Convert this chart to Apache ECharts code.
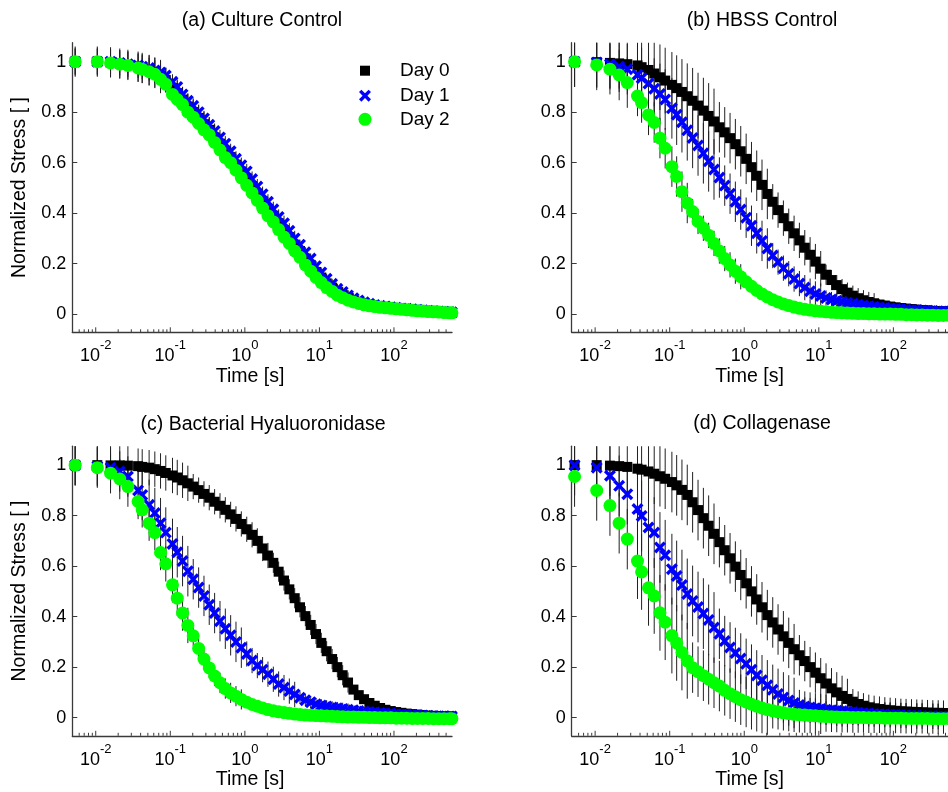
<!DOCTYPE html>
<html><head><meta charset="utf-8">
<script src="https://cdn.jsdelivr.net/npm/echarts@6/dist/echarts.min.js"></script>
<style>html,body{margin:0;padding:0;background:#fff}#c{width:948px;height:792px}</style>
</head><body><div id="c"></div>
<script>
// ---------- data ----------
const T = [0.0053,0.0105,0.0158,0.021,0.027,0.037,0.042,0.052,0.062,0.074,0.087,0.107,0.124,0.146,0.172,0.203,0.24,0.283,0.333,0.393,0.464,0.547,0.645,0.76,0.897,1.06,1.25,1.47,1.73,2.04,2.41,2.84,3.35,3.95,4.66,5.49,6.48,7.64,9.0,10.6,12.5,14.8,17.4,20.5,24.2,28.6,33.7,39.7,46.8,55.2,65.1,76.8,90.5,107,126,148,175,206,243,287,338,399,470,554,598];

const A0 = [1.00,1.00,0.997,0.992,0.987,0.98,0.975,0.967,0.957,0.943,0.927,0.895,0.875,0.85,0.822,0.80,0.777,0.752,0.73,0.70,0.675,0.647,0.622,0.592,0.565,0.537,0.507,0.477,0.447,0.417,0.39,0.36,0.332,0.305,0.275,0.25,0.22,0.195,0.167,0.145,0.122,0.105,0.087,0.076,0.064,0.055,0.048,0.042,0.037,0.033,0.03,0.027,0.025,0.023,0.02,0.019,0.017,0.015,0.013,0.012,0.01,0.009,0.008,0.006,0.006];
const A1 = [1.00,1.00,1.00,0.995,0.99,0.985,0.98,0.975,0.965,0.957,0.945,0.92,0.90,0.87,0.845,0.825,0.80,0.775,0.75,0.725,0.70,0.675,0.645,0.615,0.59,0.565,0.535,0.505,0.475,0.445,0.415,0.385,0.36,0.33,0.30,0.275,0.245,0.22,0.19,0.165,0.14,0.12,0.10,0.088,0.074,0.063,0.054,0.047,0.041,0.036,0.033,0.03,0.027,0.025,0.022,0.021,0.019,0.017,0.015,0.013,0.012,0.01,0.009,0.008,0.007];
const A2 = [1.00,1.00,0.995,0.99,0.985,0.975,0.97,0.96,0.95,0.93,0.91,0.87,0.85,0.83,0.80,0.78,0.755,0.73,0.71,0.68,0.65,0.62,0.60,0.57,0.54,0.51,0.48,0.45,0.42,0.39,0.365,0.335,0.305,0.28,0.25,0.225,0.195,0.17,0.145,0.125,0.105,0.09,0.075,0.065,0.055,0.048,0.042,0.037,0.033,0.03,0.027,0.025,0.023,0.021,0.019,0.017,0.015,0.013,0.012,0.01,0.009,0.008,0.006,0.005,0.005];

const B0 = [1.0,0.998,0.995,0.993,0.99,0.985,0.978,0.967,0.953,0.938,0.925,0.908,0.895,0.88,0.863,0.845,0.826,0.806,0.785,0.763,0.74,0.72,0.697,0.673,0.645,0.615,0.582,0.548,0.512,0.476,0.445,0.412,0.38,0.348,0.32,0.292,0.263,0.235,0.208,0.18,0.156,0.135,0.115,0.099,0.085,0.073,0.063,0.055,0.048,0.043,0.038,0.034,0.03,0.027,0.024,0.022,0.02,0.018,0.016,0.015,0.013,0.012,0.011,0.01,0.01];
const B1 = [1.0,0.997,0.99,0.98,0.97,0.948,0.935,0.913,0.893,0.872,0.85,0.815,0.79,0.76,0.728,0.698,0.668,0.637,0.605,0.573,0.541,0.509,0.477,0.445,0.414,0.382,0.35,0.32,0.29,0.26,0.232,0.206,0.182,0.16,0.139,0.121,0.105,0.091,0.08,0.072,0.064,0.058,0.053,0.049,0.045,0.041,0.037,0.034,0.031,0.028,0.026,0.024,0.022,0.02,0.018,0.017,0.016,0.015,0.014,0.013,0.012,0.011,0.01,0.01,0.01];
const B2 = [1.0,0.987,0.97,0.947,0.917,0.864,0.838,0.789,0.759,0.697,0.657,0.584,0.545,0.485,0.44,0.406,0.367,0.34,0.312,0.28,0.25,0.22,0.195,0.17,0.148,0.128,0.11,0.094,0.08,0.068,0.057,0.048,0.04,0.034,0.028,0.023,0.019,0.016,0.013,0.011,0.009,0.007,0.006,0.005,0.004,0.003,0.002,0.002,0.001,0.001,0.0,0.0,0.0,-0.001,-0.001,-0.002,-0.002,-0.003,-0.003,-0.004,-0.004,-0.005,-0.005,-0.005,-0.005];

const C0 = [1.0,1.0,0.999,0.999,0.998,0.996,0.993,0.99,0.984,0.977,0.969,0.959,0.951,0.94,0.928,0.915,0.901,0.886,0.871,0.855,0.839,0.823,0.805,0.787,0.767,0.746,0.724,0.70,0.67,0.642,0.613,0.578,0.543,0.508,0.473,0.437,0.402,0.367,0.331,0.296,0.263,0.232,0.20,0.168,0.139,0.111,0.089,0.073,0.058,0.047,0.038,0.031,0.026,0.022,0.019,0.016,0.014,0.012,0.01,0.008,0.007,0.006,0.005,0.005,0.004];
const C1 = [1.0,0.995,0.99,0.975,0.955,0.90,0.882,0.843,0.81,0.77,0.733,0.688,0.655,0.62,0.58,0.548,0.515,0.482,0.447,0.414,0.382,0.352,0.326,0.30,0.277,0.252,0.226,0.206,0.19,0.172,0.152,0.133,0.119,0.105,0.092,0.079,0.069,0.061,0.053,0.048,0.044,0.04,0.037,0.034,0.031,0.029,0.026,0.024,0.022,0.02,0.018,0.016,0.015,0.013,0.012,0.011,0.01,0.009,0.008,0.007,0.006,0.005,0.005,0.004,0.004];
const C2 = [1.0,0.99,0.968,0.945,0.915,0.856,0.823,0.77,0.733,0.654,0.609,0.526,0.473,0.414,0.365,0.324,0.274,0.232,0.197,0.165,0.138,0.115,0.098,0.085,0.072,0.061,0.052,0.045,0.038,0.032,0.027,0.023,0.02,0.017,0.014,0.012,0.01,0.009,0.008,0.007,0.006,0.005,0.004,0.003,0.002,0.002,0.001,0.001,0.0,0.0,-0.001,-0.001,-0.001,-0.002,-0.002,-0.002,-0.003,-0.003,-0.003,-0.003,-0.004,-0.004,-0.004,-0.004,-0.004];

const D0 = [1.0,1.0,0.998,0.996,0.993,0.986,0.982,0.975,0.966,0.956,0.946,0.933,0.92,0.902,0.882,0.853,0.822,0.79,0.76,0.728,0.695,0.663,0.631,0.598,0.565,0.532,0.50,0.468,0.437,0.406,0.377,0.349,0.322,0.296,0.271,0.247,0.224,0.20,0.178,0.156,0.135,0.116,0.10,0.086,0.074,0.063,0.054,0.047,0.041,0.037,0.034,0.031,0.029,0.027,0.025,0.024,0.023,0.022,0.021,0.02,0.019,0.019,0.018,0.018,0.017];
const D1 = [1.0,0.99,0.958,0.918,0.885,0.826,0.799,0.753,0.733,0.674,0.643,0.588,0.561,0.525,0.49,0.462,0.438,0.412,0.387,0.357,0.332,0.303,0.278,0.256,0.234,0.213,0.19,0.167,0.148,0.128,0.11,0.094,0.08,0.068,0.058,0.05,0.044,0.04,0.037,0.034,0.031,0.029,0.027,0.025,0.023,0.021,0.019,0.017,0.015,0.014,0.013,0.012,0.011,0.01,0.009,0.008,0.007,0.006,0.006,0.005,0.005,0.004,0.004,0.004,0.003];
const D2 = [0.955,0.90,0.84,0.77,0.707,0.62,0.577,0.514,0.482,0.415,0.378,0.325,0.296,0.258,0.225,0.198,0.182,0.166,0.152,0.138,0.125,0.108,0.095,0.083,0.071,0.062,0.053,0.045,0.038,0.032,0.027,0.023,0.019,0.016,0.013,0.011,0.01,0.008,0.007,0.005,0.004,0.003,0.002,0.001,0.001,0.0,0.0,0.0,-0.001,-0.001,-0.001,-0.002,-0.002,-0.002,-0.002,-0.003,-0.003,-0.003,-0.003,-0.003,-0.004,-0.004,-0.004,-0.004,-0.004];

// standard deviations (error bar half-lengths)
const EA0 = [0.06,0.06,0.06,0.06,0.06,0.06,0.06,0.06,0.06,0.06,0.05,0.05,0.05,0.05,0.05,0.05,0.05,0.05,0.05,0.05,0.04,0.04,0.04,0.04,0.04,0.04,0.04,0.04,0.04,0.04,0.04,0.04,0.04,0.04,0.04,0.03,0.03,0.03,0.03,0.03,0.03,0.03,0.03,0.03,0.03,0.02,0.02,0.02,0.02,0.02,0.02,0.02,0.02,0.02,0.02,0.012,0.012,0.012,0.012,0.012,0.012,0.012,0.012,0.012,0.012];
const EA1 = [0.05,0.05,0.05,0.05,0.05,0.05,0.05,0.05,0.05,0.05,0.03,0.03,0.03,0.03,0.03,0.03,0.03,0.03,0.03,0.03,0.03,0.03,0.03,0.03,0.03,0.03,0.03,0.03,0.03,0.03,0.03,0.03,0.03,0.03,0.03,0.02,0.02,0.02,0.02,0.02,0.02,0.02,0.02,0.02,0.02,0.02,0.02,0.02,0.02,0.02,0.01,0.01,0.01,0.01,0.01,0.01,0.01,0.01,0.01,0.01,0.01,0.01,0.01,0.01,0.01];
const EA2 = [0.055,0.055,0.055,0.055,0.055,0.055,0.055,0.055,0.055,0.055,0.03,0.03,0.03,0.03,0.03,0.03,0.03,0.03,0.03,0.03,0.03,0.03,0.03,0.03,0.03,0.03,0.03,0.03,0.03,0.03,0.03,0.03,0.03,0.03,0.03,0.015,0.015,0.015,0.015,0.015,0.015,0.015,0.015,0.015,0.015,0.015,0.015,0.015,0.015,0.015,0.01,0.01,0.01,0.01,0.01,0.01,0.01,0.01,0.01,0.01,0.01,0.01,0.01,0.01,0.01];

const EB0 = [0.1,0.1,0.1,0.1,0.1,0.13,0.13,0.13,0.13,0.13,0.13,0.13,0.13,0.13,0.13,0.13,0.13,0.13,0.13,0.13,0.1,0.1,0.1,0.1,0.1,0.1,0.1,0.1,0.1,0.1,0.07,0.07,0.07,0.07,0.07,0.07,0.07,0.07,0.07,0.07,0.04,0.04,0.04,0.04,0.04,0.04,0.04,0.04,0.04,0.04,0.02,0.02,0.02,0.02,0.02,0.02,0.02,0.02,0.02,0.02,0.02,0.02,0.02,0.02,0.02];
const EB1 = [0.1,0.1,0.1,0.1,0.1,0.12,0.12,0.12,0.12,0.12,0.12,0.12,0.12,0.12,0.12,0.12,0.12,0.12,0.12,0.12,0.08,0.08,0.08,0.08,0.08,0.08,0.08,0.08,0.08,0.08,0.05,0.05,0.05,0.05,0.05,0.05,0.05,0.05,0.05,0.05,0.03,0.03,0.03,0.03,0.03,0.03,0.03,0.03,0.03,0.03,0.015,0.015,0.015,0.015,0.015,0.015,0.015,0.015,0.015,0.015,0.015,0.015,0.015,0.015,0.015];
const EB2 = [0.1,0.1,0.1,0.1,0.1,0.08,0.08,0.08,0.08,0.08,0.08,0.08,0.08,0.08,0.08,0.05,0.05,0.05,0.05,0.05,0.05,0.05,0.05,0.05,0.05,0.02,0.02,0.02,0.02,0.02,0.02,0.02,0.02,0.02,0.02,0.02,0.02,0.02,0.02,0.02,0.01,0.01,0.01,0.01,0.01,0.01,0.01,0.01,0.01,0.01,0.01,0.01,0.01,0.01,0.01,0.01,0.01,0.01,0.01,0.01,0.01,0.01,0.01,0.01,0.01];

const EC0 = [0.08,0.08,0.08,0.08,0.08,0.07,0.07,0.07,0.07,0.07,0.07,0.07,0.07,0.07,0.07,0.05,0.05,0.05,0.05,0.05,0.05,0.05,0.05,0.05,0.05,0.05,0.05,0.05,0.05,0.05,0.04,0.04,0.04,0.04,0.04,0.04,0.04,0.04,0.04,0.04,0.04,0.04,0.04,0.04,0.04,0.015,0.015,0.015,0.015,0.015,0.015,0.015,0.015,0.015,0.015,0.015,0.015,0.015,0.015,0.015,0.015,0.015,0.015,0.015,0.015];
const EC1 = [0.08,0.08,0.08,0.08,0.08,0.1,0.1,0.1,0.1,0.1,0.1,0.1,0.1,0.1,0.1,0.08,0.08,0.08,0.08,0.08,0.08,0.08,0.08,0.08,0.08,0.05,0.05,0.05,0.05,0.05,0.05,0.05,0.05,0.05,0.05,0.025,0.025,0.025,0.025,0.025,0.025,0.025,0.025,0.025,0.025,0.01,0.01,0.01,0.01,0.01,0.01,0.01,0.01,0.01,0.01,0.01,0.01,0.01,0.01,0.01,0.01,0.01,0.01,0.01,0.01];
const EC2 = [0.08,0.08,0.08,0.08,0.08,0.07,0.07,0.07,0.07,0.07,0.07,0.07,0.07,0.07,0.07,0.04,0.04,0.04,0.04,0.04,0.04,0.04,0.04,0.04,0.04,0.01,0.01,0.01,0.01,0.01,0.01,0.01,0.01,0.01,0.01,0.01,0.01,0.01,0.01,0.01,0.01,0.01,0.01,0.01,0.01,0.01,0.01,0.01,0.01,0.01,0.01,0.01,0.01,0.01,0.01,0.01,0.01,0.01,0.01,0.01,0.01,0.01,0.01,0.01,0.01];

const ED0 = [0.12,0.12,0.12,0.12,0.12,0.12,0.12,0.12,0.12,0.12,0.12,0.12,0.12,0.12,0.12,0.12,0.12,0.12,0.12,0.12,0.1,0.1,0.1,0.1,0.1,0.1,0.1,0.1,0.1,0.1,0.1,0.1,0.1,0.1,0.1,0.08,0.08,0.08,0.08,0.08,0.08,0.08,0.08,0.08,0.08,0.05,0.05,0.05,0.05,0.05,0.05,0.05,0.05,0.05,0.05,0.05,0.05,0.05,0.05,0.05,0.05,0.05,0.05,0.05,0.05];
const ED1 = [0.12,0.12,0.12,0.12,0.12,0.14,0.14,0.14,0.14,0.14,0.14,0.14,0.14,0.14,0.14,0.14,0.14,0.14,0.14,0.14,0.1,0.1,0.1,0.1,0.1,0.1,0.1,0.1,0.1,0.1,0.1,0.1,0.1,0.1,0.1,0.06,0.06,0.06,0.06,0.06,0.06,0.06,0.06,0.06,0.06,0.05,0.05,0.05,0.05,0.05,0.05,0.05,0.05,0.05,0.05,0.05,0.05,0.05,0.05,0.05,0.05,0.05,0.05,0.05,0.05];
const ED2 = [0.12,0.12,0.12,0.12,0.12,0.15,0.15,0.15,0.15,0.15,0.15,0.15,0.15,0.15,0.15,0.1,0.1,0.1,0.1,0.1,0.1,0.1,0.1,0.1,0.1,0.1,0.1,0.1,0.1,0.1,0.07,0.07,0.07,0.07,0.07,0.07,0.07,0.07,0.07,0.07,0.06,0.06,0.06,0.06,0.06,0.06,0.06,0.06,0.06,0.06,0.06,0.06,0.06,0.06,0.06,0.06,0.06,0.06,0.06,0.06,0.06,0.06,0.06,0.06,0.06];

const DAYS = ['Day 0', 'Day 1', 'Day 2'];
const TITLES = ['(a) Culture Control', '(b) HBSS Control', '(c) Bacterial Hyaluoronidase', '(d) Collagenase'];
const Y_TICKS = [0, 0.2, 0.4, 0.6, 0.8, 1];
const X_TICKS = [0.006,0.007,0.008,0.009,0.01,0.02,0.03,0.04,0.05,0.06,0.07,0.08,0.09,0.1,0.2,0.3,0.4,0.5,0.6,0.7,0.8,0.9,1,2,3,4,5,6,7,8,9,10,20,30,40,50,60,70,80,90,100,200,300,400,500];
const X_MAJOR = [0.01, 0.1, 1, 10, 100];

const VALUES = [[A0, A1, A2], [B0, B1, B2], [C0, C1, C2], [D0, D1, D2]];
const ERRORS = [[EA0, EA1, EA2], [EB0, EB1, EB2], [EC0, EC1, EC2], [ED0, ED1, ED2]];

// ---------- layout / style ----------
const X_MIN = 0.00485, X_MAX = 600, Y_MIN = -0.072, Y_MAX = 1.075;
const FONT = '"Liberation Sans", Arial, Helvetica, sans-serif';
const LAYOUT = [
  {left: 72.3, top: 42.7, tx: 262, ty: 20.7, yName: true},
  {left: 571.7, top: 42.7, tx: 762, ty: 20.5, yName: false},
  {left: 72.3, top: 446.2, tx: 263, ty: 424.3, yName: true},
  {left: 571.7, top: 446.2, tx: 762, ty: 423.5, yName: false}
];
const GW = 379.7, GH = 289.6;
const XPATH = 'path://M0,2L2,0L5,3L8,0L10,2L7,5L10,8L8,10L5,7L2,10L0,8L3,5Z';
const SYM = ['rect', XPATH, 'circle'];
const SYM_SIZE = [10, 12, 13];
const COL = ['#000000', '#0000ff', '#00ff00'];
const AXIS_COL = '#3a3a3a';

function errBar(params, api) {
  const x = api.value(0), y = api.value(1), e = api.value(2);
  const a = api.coord([x, y - e]), b = api.coord([x, y + e]);
  return {type: 'line', silent: true,
    shape: {x1: a[0], y1: a[1], x2: b[0], y2: b[1]},
    style: {stroke: '#202020', lineWidth: 1}};
}
function tickItem(params, api) {
  const p = api.coord([api.value(0), Y_MIN]);
  const len = api.value(1) ? 5 : 3;
  return {type: 'line', silent: true,
    shape: {x1: p[0], y1: p[1], x2: p[0], y2: p[1] - len},
    style: {stroke: AXIS_COL, lineWidth: 1}};
}

const grid = [], xAxis = [], yAxis = [], series = [], graphic = [];
LAYOUT.forEach((L, i) => {
  grid.push({left: L.left, top: L.top, width: GW, height: GH, containLabel: false, outerBoundsMode: 'none'});
  xAxis.push({
    type: 'log', logBase: 10, gridIndex: i, min: X_MIN, max: X_MAX, position: 'bottom',
    name: 'Time [s]', nameLocation: 'middle', nameGap: 34,
    nameTextStyle: {fontFamily: FONT, fontSize: 19.5, color: '#000', lineHeight: 20, padding: [0, 24, 0, 0]},
    axisLine: {show: true, onZero: false, lineStyle: {color: AXIS_COL, width: 1.3}},
    axisTick: {show: false},
    splitLine: {show: false}, minorTick: {show: false},
    axisLabel: {
      margin: 7, showMinLabel: false, showMaxLabel: false,
      formatter: v => '{b|10}{s|' + Math.round(Math.log10(v)) + '}',
      rich: {
        b: {fontFamily: FONT, fontSize: 18, color: '#000', lineHeight: 26, verticalAlign: 'bottom'},
        s: {fontFamily: FONT, fontSize: 13, color: '#000', lineHeight: 26, verticalAlign: 'top'}
      }
    }
  });
  yAxis.push({
    type: 'value', gridIndex: i, min: Y_MIN, max: Y_MAX, position: 'left',
    name: L.yName ? 'Normalized Stress [ ]' : '', nameLocation: 'middle', nameGap: 43,
    nameTextStyle: {fontFamily: FONT, fontSize: 19.5, color: '#000', lineHeight: 20},
    axisLine: {show: true, onZero: false, lineStyle: {color: AXIS_COL, width: 1.3}},
    axisTick: {show: true, inside: true, length: 5, customValues: Y_TICKS, lineStyle: {color: AXIS_COL}},
    axisLabel: {customValues: Y_TICKS, margin: 6, fontFamily: FONT, fontSize: 18, color: '#000',
      formatter: v => String(v)},
    splitLine: {show: false}
  });
  for (let s = 0; s < 3; s++) {
    const ys = VALUES[i][s], es = ERRORS[i][s];
    series.push({
      type: 'custom', xAxisIndex: i, yAxisIndex: i, clip: true, silent: true,
      renderItem: errBar, encode: {x: 0, y: 1},
      data: T.map((t, k) => [t, ys[k], es[k]])
    });
    series.push({
      type: 'scatter', name: DAYS[s], xAxisIndex: i, yAxisIndex: i,
      symbol: SYM[s], symbolSize: SYM_SIZE[s], itemStyle: {color: COL[s], opacity: 1},
      silent: true,
      data: T.map((t, k) => [t, ys[k]])
    });
  }
  series.push({
    type: 'custom', xAxisIndex: i, yAxisIndex: i, silent: true, clip: false,
    renderItem: tickItem, encode: {x: 0, y: 1},
    data: X_TICKS.map(v => [v, X_MAJOR.includes(v) ? 1 : 0])
  });
  graphic.push({type: 'text', x: L.tx, y: L.ty, silent: true,
    style: {text: TITLES[i], fill: '#000', font: '19.5px ' + FONT, align: 'center', verticalAlign: 'middle'}});
});

// legend: icon centred at x=365, label text starting at x=400
const legend = [
  {data: ['Day 0'], top: 60.7, size: 10},
  {data: ['Day 1'], top: 85.7, size: 12},
  {data: ['Day 2'], top: 109.3, size: 13}
].map(l => ({
  data: l.data, orient: 'horizontal', padding: 0, selectedMode: false,
  left: 365 - l.size / 2, top: l.top, itemWidth: l.size, itemHeight: l.size,
  textStyle: {fontFamily: FONT, fontSize: 19, color: '#000', lineHeight: 20,
    padding: [0, 0, 0, 30 - l.size / 2]}
}));

const chart = echarts.init(document.getElementById('c'), null, {renderer: 'canvas'});
chart.setOption({
  animation: false, backgroundColor: '#ffffff',
  grid, xAxis, yAxis, series, legend, graphic
});
</script></body></html>
